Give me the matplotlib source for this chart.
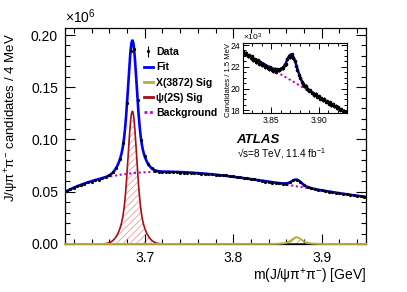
import numpy as np
import matplotlib
matplotlib.use('Agg')
import matplotlib.pyplot as plt
from matplotlib.ticker import MultipleLocator, FormatStrFormatter
from matplotlib.lines import Line2D

plt.rcParams['font.family'] = ['Liberation Sans', 'DejaVu Sans']
plt.rcParams['mathtext.fontset'] = 'custom'
plt.rcParams['mathtext.rm'] = 'Liberation Sans'
plt.rcParams['mathtext.it'] = 'Liberation Sans:italic'
plt.rcParams['mathtext.bf'] = 'Liberation Sans:bold'
plt.rcParams['hatch.linewidth'] = 0.6

# ---------------- data (thousands of candidates) ----------------
# main plot: 4 MeV bins, first bin centre 3.612 GeV
main_first_center = 3.612
main_bin = 0.004
main_counts = [
    50.6, 52.5, 53.8, 55.3, 56.5, 57.5, 58.9, 59.7, 60.9, 61.7,
    62.9, 64.2, 65.8, 68.7, 73.2, 81.5, 96.5, 134.8, 184.5, 186.5,
    138.2, 99.9, 84.0, 76.1, 72.3, 70.1, 69.1, 68.9, 68.6, 68.9,
    68.5, 68.7, 68.3, 68.4, 68.0, 68.1, 67.7, 67.8, 67.4, 67.3,
    66.9, 66.8, 66.4, 66.3, 65.7, 65.6, 65.0, 64.9, 64.2, 63.9,
    63.2, 62.9, 62.2, 61.8, 61.0, 60.6, 59.8, 59.4, 58.7, 58.3,
    57.9, 57.7, 57.8, 58.9, 60.8, 61.4, 59.2, 56.4, 54.5, 53.4,
    52.6, 51.9, 51.2, 50.9, 50.2, 49.8, 49.1, 48.8, 48.1, 47.8,
    47.1, 46.8, 46.1, 45.8, 45.1,
]
# inset: 1.5 MeV bins, first bin centre 3.8205 GeV
inset_first_center = 3.8205
inset_bin = 0.0015
inset_counts = [
    23.45, 23.20, 23.30, 22.95, 23.05, 22.80, 22.95, 22.62, 22.70, 22.45,
    22.60, 22.30, 22.42, 22.15, 22.25, 21.95, 22.10, 21.85, 21.75, 21.95,
    21.70, 21.62, 21.80, 21.55, 21.75, 21.68, 21.80, 21.90, 21.85, 22.20,
    22.30, 22.75, 23.00, 22.90, 23.15, 22.80, 22.55, 22.05, 21.70, 21.20,
    20.95, 20.60, 20.45, 20.20, 20.25, 19.95, 19.80, 19.85, 19.60, 19.55,
    19.40, 19.50, 19.25, 19.30, 19.05, 19.10, 18.90, 19.05, 18.80, 18.85,
    18.60, 18.75, 18.45, 18.55, 18.35, 18.40, 18.20, 18.30, 18.05, 18.10,
    17.90, 17.95, 17.80,
]

# ---------------- fit model (thousands / 4 MeV) ----------------
bkg_mass = [3.61, 3.62, 3.63, 3.64, 3.65, 3.66, 3.67, 3.68, 3.69, 3.70, 3.72, 3.74,
            3.76, 3.78, 3.80, 3.82, 3.84, 3.86, 3.88, 3.90, 3.92, 3.94, 3.95]
bkg_level = [50.0, 54.0, 57.0, 59.8, 62.3, 64.6, 66.3, 67.5, 68.2, 68.6, 68.8, 68.5,
             67.7, 66.5, 64.8, 62.3, 59.3, 56.6, 54.0, 51.3, 48.7, 46.2, 45.0]
psi_mean = 3.6861
psi_core = (89.0, 0.0045)   # amplitude, sigma
psi_wide = (38.0, 0.0100)
x_mean = 3.8716
x_core = (4.8, 0.0050)
x_wide = (1.6, 0.0105)

legend_labels = ['Data', 'Fit', 'X(3872) Sig', 'ψ(2S) Sig', 'Background']

# ---------------- model evaluation ----------------
def gauss(m, mu, amp_sig):
    a, s = amp_sig
    return a * np.exp(-0.5 * ((m - mu) / s) ** 2)

tk = (np.array(bkg_mass) - 3.78) / 0.17
coef = np.polyfit(tk, np.array(bkg_level), 6)

def bkg(m):
    return np.polyval(coef, (m - 3.78) / 0.17)

def psi(m):
    return gauss(m, psi_mean, psi_core) + gauss(m, psi_mean, psi_wide)

def xsig(m):
    return gauss(m, x_mean, x_core) + gauss(m, x_mean, x_wide)

# ---------------- figure ----------------
fig = plt.figure(figsize=(4.07, 2.92), dpi=100)
ax = fig.add_axes([0.1597, 0.1644, 0.7396, 0.7397])

BLUE = '#0000ff'
RED = '#a50f15'
HATCH_RED = '#e8a0a0'
OLIVE = '#b5ad3c'
MAG = '#cc00cc'

mm = np.linspace(3.61, 3.95, 1500)
s = 1e-3  # thousands -> millions
ax.fill_between(mm, 0, psi(mm) * s, facecolor='none', edgecolor=HATCH_RED,
                hatch='/////', linewidth=0, zorder=1)
ax.fill_between(mm, 0, xsig(mm) * s, facecolor='none', edgecolor=OLIVE,
                hatch='/////', linewidth=0, zorder=1)
l_psi, = ax.plot(mm, psi(mm) * s, color=RED, lw=1.2, zorder=2)
l_x, = ax.plot(mm, xsig(mm) * s, color=OLIVE, lw=1.4, zorder=3, clip_on=False)
l_bkg, = ax.plot(mm, bkg(mm) * s, color=MAG, lw=1.5, ls=(0, (1, 1.3)), zorder=3)
l_fit, = ax.plot(mm, (bkg(mm) + psi(mm) + xsig(mm)) * s, color=BLUE, lw=1.9, zorder=4)

mc = main_first_center + main_bin * np.arange(len(main_counts))
mcnt = np.array(main_counts)
eb = ax.errorbar(mc, mcnt * s, yerr=np.sqrt(mcnt * 1000) * 1e-6, fmt='o', ms=1.3,
                 color='black', elinewidth=0.8, capsize=0, zorder=5)

ax.set_xlim(3.61, 3.95)
ax.set_ylim(0, 0.2067)
ax.xaxis.set_major_locator(MultipleLocator(0.1))
ax.xaxis.set_minor_locator(MultipleLocator(0.02))
ax.yaxis.set_major_locator(MultipleLocator(0.05))
ax.yaxis.set_minor_locator(MultipleLocator(0.01))
ax.xaxis.set_major_formatter(FormatStrFormatter('%.1f'))
ax.yaxis.set_major_formatter(FormatStrFormatter('%.2f'))
ax.tick_params(which='both', direction='in', top=True, right=True, labelsize=10)
ax.tick_params(which='major', length=7, width=0.8)
ax.tick_params(which='minor', length=3.5, width=0.8)
ax.tick_params(axis='y', pad=5)
ax.tick_params(axis='x', pad=5)
for sp in ax.spines.values():
    sp.set_linewidth(0.9)

ax.set_xlabel('m(J/ψπ$^{+}$π$^{-}$) [GeV]', fontsize=10, loc='right')
ax.xaxis.set_label_coords(1.0, -0.105)
ax.set_ylabel('J/ψπ$^{+}$π$^{-}$ candidates / 4 MeV', fontsize=9.5, loc='top')
ax.yaxis.set_label_coords(-0.145, 0.975)
ax.text(0.0, 1.01, '×10$^{6}$', transform=ax.transAxes, fontsize=10,
        ha='left', va='bottom')

ax.text(0.570, 0.468, 'ATLAS', transform=ax.transAxes, fontsize=9.5,
        fontweight='bold', fontstyle='italic')
ax.text(0.570, 0.402, '√s=8 TeV, 11.4 fb$^{-1}$', transform=ax.transAxes, fontsize=7.2)

h_x = Line2D([], [], color=OLIVE, lw=2)
h_psi = Line2D([], [], color=RED, lw=2)
h_bkg = Line2D([], [], color=MAG, lw=2, ls=(0, (1, 1)))
h_fit = Line2D([], [], color=BLUE, lw=2)
leg = ax.legend([eb, h_fit, h_x, h_psi, h_bkg], legend_labels,
                loc='upper left', bbox_to_anchor=(0.262, 0.912), frameon=False,
                prop={'size': 7.6, 'weight': 'bold'}, handlelength=0.85,
                handletextpad=0.3, labelspacing=0.5, borderpad=0, borderaxespad=0)

# ---------------- inset ----------------
ax2 = fig.add_axes([0.597, 0.612, 0.2556, 0.2397])
ax2.set_facecolor('white')
mi = np.linspace(3.82, 3.93, 600)
f15 = inset_bin / main_bin
ax2.plot(mi, bkg(mi) * f15, color=MAG, lw=1.5, ls=(0, (1, 1.3)), zorder=3)
ax2.plot(mi, (bkg(mi) + psi(mi) + xsig(mi)) * f15, color=BLUE, lw=1.8, zorder=4)
ic = inset_first_center + inset_bin * np.arange(len(inset_counts))
icnt = np.array(inset_counts)
ax2.errorbar(ic, icnt, yerr=np.sqrt(icnt * 1000) * 1e-3, fmt='o', ms=1.6,
             color='black', elinewidth=0.7, capsize=0, zorder=5)
ax2.set_xlim(3.82, 3.93)
ax2.set_ylim(17.72, 24.16)
ax2.xaxis.set_major_locator(MultipleLocator(0.05))
ax2.xaxis.set_minor_locator(MultipleLocator(0.01))
ax2.yaxis.set_major_locator(MultipleLocator(2))
ax2.yaxis.set_minor_locator(MultipleLocator(0.5))
ax2.xaxis.set_major_formatter(FormatStrFormatter('%.2f'))
ax2.yaxis.set_major_formatter(FormatStrFormatter('%d'))
ax2.tick_params(which='both', direction='in', top=True, right=True, labelsize=6.2, pad=2)
ax2.tick_params(which='major', length=4, width=0.7)
ax2.tick_params(which='minor', length=2, width=0.7)
for sp in ax2.spines.values():
    sp.set_linewidth(0.8)
ax2.set_ylabel('Candidates / 1.5 MeV', fontsize=5.5, loc='top')
ax2.yaxis.set_label_coords(-0.11, 1.0)
ax2.text(0.0, 1.0, '×10$^{3}$', transform=ax2.transAxes, fontsize=6,
         ha='left', va='bottom')

fig.savefig('out.png', dpi=100)
